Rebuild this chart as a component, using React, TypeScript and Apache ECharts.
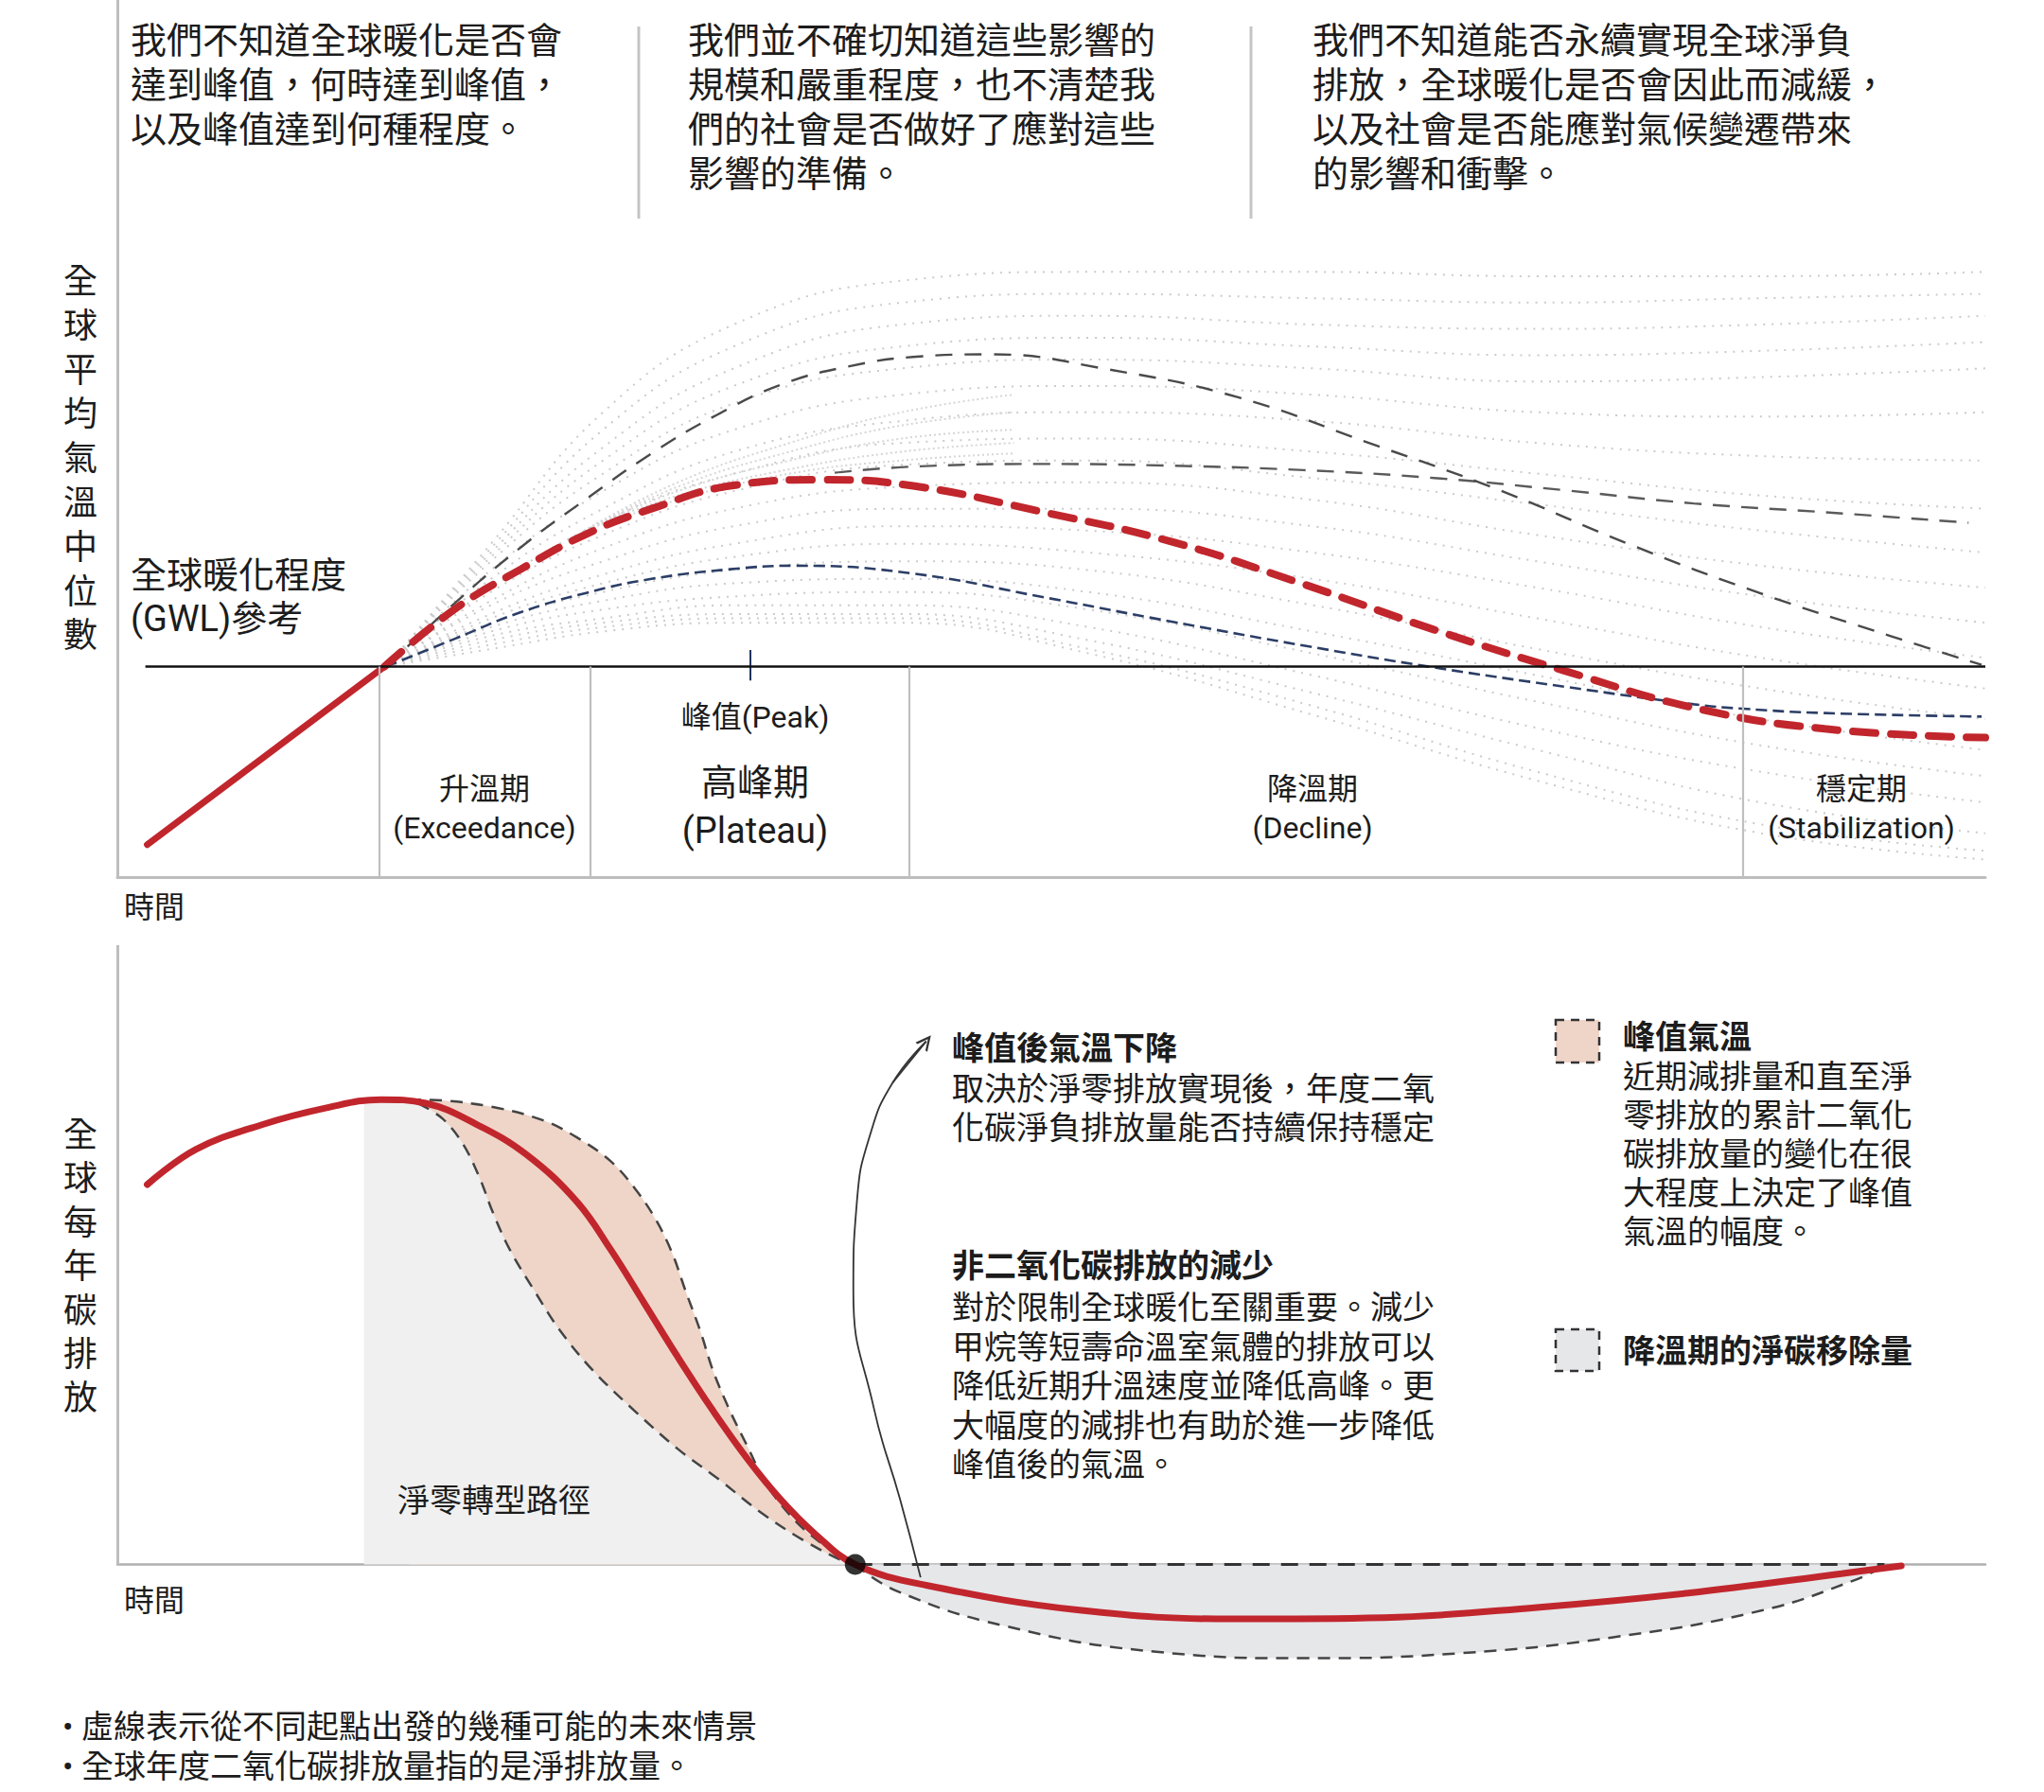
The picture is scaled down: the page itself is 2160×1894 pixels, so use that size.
import React, { useEffect, useRef } from 'react';
import * as echarts from 'echarts';

const FONT = "Roboto, 'Noto Sans CJK TC', 'Noto Sans', sans-serif";

// ---------- Top panel (time 0-100, temperature index 0-100, GWL = 24) ----------
const GWL = 24;
const PHASE_BOUNDS = [14.0, 25.3, 42.4, 87.0];
const PEAK_T = 33.9;

const FAN_T = [14.4, 20, 26, 33, 42, 52, 64, 76, 88, 100];
const fanCurves: number[][] = [
  [24, 38, 53, 63, 68, 69, 69, 68.5, 68.5, 69],
  [24, 37.5, 51, 60.5, 65.5, 66.5, 66, 65.5, 66, 66.5],
  [24, 37, 49, 58, 63, 64, 63, 62.5, 63, 64],
  [24, 36.5, 47.5, 56, 60.5, 61.5, 60.5, 59.5, 60, 61],
  [24, 36, 46, 54, 58, 59, 58, 56.5, 57, 58],
  [24, 35, 44, 51, 55, 56, 55, 53, 52.5, 53],
  [24, 34, 42, 48.5, 52, 53, 52, 49.5, 48, 47.5],
  [24, 33, 40.5, 46, 49.5, 50, 48.5, 46, 43.5, 42],
  [24, 32.5, 39, 44, 47, 47.5, 45.5, 42.5, 39.5, 37],
  [24, 31.5, 37.5, 42, 44.5, 45, 43, 39, 35.5, 33],
  [24, 31, 36, 40, 42, 42, 40, 36, 32, 29],
  [24, 30, 34.5, 38, 40, 39.5, 37, 33, 28.5, 25],
  [24, 29.5, 33.5, 36.5, 38, 37, 34, 29.5, 25, 21.5],
  [24, 29, 32.5, 35, 36, 35, 31, 26, 21.5, 18],
  [24, 28.5, 31.5, 33.5, 34, 32.5, 28, 23, 18, 14.5],
  [24, 28, 30.5, 32, 32.5, 30.5, 25.5, 20, 15, 11.5],
  [24, 27.5, 29.5, 31, 31, 28.5, 23, 17, 12, 8.5],
  [24, 27, 29, 30, 30, 27, 21, 14.5, 8.5, 5],
  [24, 26.5, 28.5, 29.5, 29.5, 26, 19.5, 12, 6, 3],
  [24, 26, 28, 29, 29, 25.5, 18.5, 11, 5, 2],
];

const HATCH_T = [25, 30, 36, 42, 48];
const hatchCurves: number[][] = [
  [39.5, 45, 49.5, 53, 55],
  [39.5, 44.5, 48.5, 51.5, 53],
  [39.5, 44, 47.5, 50, 51],
  [39.5, 43.5, 46.5, 48.5, 49.5],
  [39.5, 43, 46, 47.5, 48.3],
];

const redSolidTop = [[1.6, 3.7], [14.3, 24]];
const redDashedTop = [
  [14.3, 24], [18.1, 30.6], [21.6, 35.1], [25.1, 39.1], [28.6, 42.0], [32.8, 44.6], [37.7, 45.3],
  [42.6, 44.6], [49.6, 41.6], [56.5, 38.2], [63.5, 33.4], [70.5, 28.2], [77.5, 23.5], [84.4, 19.3],
  [91.4, 16.9], [100, 15.9],
];
const upperDashedTop = [
  [14.4, 24], [18.1, 31.3], [21.6, 37.6], [25.1, 43.1], [28.6, 48.3], [32.1, 52.7], [35.6, 56.2],
  [39.1, 58.2], [42.6, 59.3], [46.8, 59.6], [53.0, 57.9], [60.0, 54.7], [67.0, 49.5], [74.0, 44.1],
  [81.0, 37.9], [87.9, 32.4], [94.9, 27.5], [99.8, 24.2],
];
const middleDashedTop = [
  [38.4, 46.1], [42.6, 46.8], [49.6, 47.1], [56.5, 46.9], [63.5, 46.4], [70.5, 45.5], [77.5, 44.1],
  [84.4, 42.6], [91.4, 41.6], [99.1, 40.4],
];
const navyDashedTop = [
  [14.4, 24], [18.1, 27.2], [21.6, 30.2], [25.1, 32.4], [28.6, 34.0], [32.8, 35.1], [36.3, 35.5],
  [42.6, 34.6], [49.6, 31.9], [56.5, 29.1], [63.5, 26.4], [70.5, 23.9], [77.5, 21.7], [84.4, 19.7],
  [87.0, 19.2], [91.4, 18.7], [99.8, 18.3],
];

// ---------- Bottom panel (time 0-100, annual emissions index, peak = 100) ----------
const redBottom = [
  [1.6, 82.2], [4.2, 89.8], [7.7, 95.1], [11.2, 98.8], [14.1, 100.6], [16.5, 99.8], [19.2, 95.3],
  [21.9, 88.7], [24.6, 78.5], [26.4, 68.2], [28.2, 56.6], [30.0, 44.9], [31.9, 33.2], [33.7, 23.0],
  [35.5, 14.1], [37.3, 6.8], [39.5, 0], [43.3, -4.5], [51.5, -9.9], [59.7, -11.8], [67.8, -11.5],
  [76.0, -9.3], [84.1, -6.2], [92.3, -2.0], [95.5, -0.3],
];
const upperBand = [
  [15.6, 100.6], [17.4, 100.4], [20.1, 99.0], [22.8, 96.1], [24.6, 92.4], [26.4, 87.3], [27.7, 81.4],
  [28.8, 74.8], [29.7, 67.4], [30.4, 59.4], [31.2, 50.6], [31.9, 41.8], [32.8, 33.2], [33.7, 25.8],
  [34.8, 17.0], [36.4, 9.0], [38.2, 3.1], [39.5, 0],
];
const lowerBand = [
  [16.1, 99.8], [17.4, 96.5], [18.5, 91.0], [19.4, 83.6], [20.1, 76.2], [21.0, 68.2], [22.3, 59.4],
  [23.7, 50.6], [25.5, 41.8], [27.7, 33.2], [30.0, 25.0], [32.2, 18.4], [34.5, 11.1], [36.7, 5.3],
  [38.8, 0.8], [39.5, 0],
];
const pathwayStart = [[13.2, 100.4], [14.1, 100.6], [15.2, 100.3]];
const removalLower = [
  [39.5, 0], [41.7, -5.7], [47.5, -13.3], [55.6, -18.9], [63.7, -20.3], [71.9, -19.2], [80.0, -15.8],
  [88.1, -9.9], [93.0, -3.4], [94.6, -0.3],
];
const removalUpper = [[39.5, 0], [94.6, 0]];
const netZeroPoint = [[39.5, 0]];
const arrowArc = [
  [43.0, -2.8], [41.9, 14.1], [40.5, 33.8], [39.4, 59.2], [39.6, 78.9], [40.3, 93.0], [41.5, 104.2],
  [43.3, 113.2],
];

const RED = '#c1262d';
const TXT = '#1c1c1c';
const CHEVRON = 'path://M5,0 L10,10 L8.4,10 L5,3.2 L1.6,10 L0,10 Z';

function txt(text: string, x: number, y: number, size: number, opts: any = {}) {
  const lh = opts.lineHeight || Math.round(size * 1.23);
  return {
    type: 'text',
    x,
    y: y - lh / 2 + 2,
    z: 100,
    silent: true,
    style: {
      text,
      font: `${opts.bold ? 700 : 400} ${size}px ${FONT}`,
      fill: opts.fill || TXT,
      textAlign: opts.align || 'left',
      align: opts.align || 'left',
      textVerticalAlign: 'top',
      verticalAlign: 'top',
      lineHeight: lh,
    },
  };
}

function buildOption() {
  const top = { xAxisIndex: 0, yAxisIndex: 0 };
  const bot = { xAxisIndex: 1, yAxisIndex: 1 };
  const series: any[] = [];

  fanCurves.forEach((c, k) => {
    series.push({
      type: 'line', ...top, name: 'fan' + k, silent: true, symbol: 'none', smooth: 0.45, z: 2,
      data: FAN_T.map((t, i) => [t, c[i]]),
      lineStyle: { color: '#cbcbcb', width: 2, type: [2, 7] },
    });
  });
  hatchCurves.forEach((c, k) => {
    series.push({
      type: 'line', ...top, name: 'hatch' + k, silent: true, symbol: 'none', smooth: 0.45, z: 2,
      data: HATCH_T.map((t, i) => [t, c[i]]),
      lineStyle: { color: '#d6d6d6', width: 2, type: [2, 3] },
    });
  });
  series.push({
    type: 'line', ...top, silent: true, symbol: 'none', smooth: 0.45, z: 3,
    data: middleDashedTop,
    lineStyle: { color: '#5a5a5a', width: 2.4, type: [18, 12] },
  });
  series.push({
    type: 'line', ...top, silent: true, symbol: 'none', smooth: 0.45, z: 3,
    data: upperDashedTop,
    lineStyle: { color: '#4a4a4a', width: 2.4, type: [18, 13] },
  });
  series.push({
    type: 'line', ...top, silent: true, symbol: 'none', smooth: 0.45, z: 3,
    data: navyDashedTop,
    lineStyle: { color: '#2c3e66', width: 2.6, type: [12, 6] },
    markLine: {
      silent: true, symbol: 'none', label: { show: false },
      data: [[
        { coord: [PEAK_T, 22.4], lineStyle: { color: '#1f3560', width: 2, type: 'solid' } },
        { coord: [PEAK_T, 25.9] },
      ]],
    },
  });
  series.push({
    type: 'line', ...top, silent: true, symbol: 'none', smooth: 0.45, z: 4,
    data: redDashedTop,
    lineStyle: { color: RED, width: 8, type: [24, 16], cap: 'round' },
  });
  series.push({
    type: 'line', ...top, silent: true, symbol: 'none', z: 4,
    data: redSolidTop,
    lineStyle: { color: RED, width: 7, cap: 'round' },
    markLine: {
      silent: true, symbol: 'none', label: { show: false },
      data: [
        [{ coord: [1.5, GWL], lineStyle: { color: '#111', width: 2.6, type: 'solid' } }, { coord: [100, GWL] }],
        ...PHASE_BOUNDS.map((t) => [
          { coord: [t, 0], lineStyle: { color: '#bfbfbf', width: 2.2, type: 'solid' } },
          { coord: [t, GWL] },
        ]),
      ],
    },
  });

  // bottom panel
  series.push({
    type: 'line', ...bot, silent: true, symbol: 'none', smooth: 0.35, z: 2,
    data: upperBand,
    lineStyle: { color: '#444', width: 2.5, type: [13, 9] },
    areaStyle: { color: '#efd5c8', opacity: 1 },
  });
  series.push({
    type: 'line', ...bot, silent: true, symbol: 'none', smooth: 0.35, z: 3,
    data: [...pathwayStart, ...lowerBand],
    lineStyle: { width: 0, opacity: 0 },
    areaStyle: { color: '#f0f0f0', opacity: 1 },
  });
  series.push({
    type: 'line', ...bot, silent: true, symbol: 'none', smooth: 0.35, z: 4,
    data: lowerBand,
    lineStyle: { color: '#444', width: 2.5, type: [13, 9] },
  });
  series.push({
    type: 'line', ...bot, silent: true, symbol: 'none', smooth: 0.45, z: 3,
    data: removalLower,
    lineStyle: { color: '#444', width: 2.5, type: [13, 9] },
    areaStyle: { color: '#e6e7e9', opacity: 1 },
  });
  series.push({
    type: 'line', ...bot, silent: true, symbol: 'none', z: 4,
    data: removalUpper,
    lineStyle: { color: '#333', width: 3, type: [18, 12] },
  });
  series.push({
    type: 'line', ...bot, silent: true, symbol: 'none', smooth: 0.4, z: 5,
    data: redBottom,
    lineStyle: { color: RED, width: 7, cap: 'round' },
    markLine: {
      silent: true, symbol: 'none', label: { show: false },
      lineStyle: { color: '#bdbdbd', width: 3, type: 'solid' },
      data: [[{ coord: [0, 0] }, { coord: [0, 134] }]],
    },
  });
  series.push({
    type: 'line', ...bot, silent: true, symbol: 'none', smooth: 0.5, z: 6,
    data: arrowArc,
    lineStyle: { color: '#333', width: 1.8 },
  });
  series.push({
    type: 'lines', coordinateSystem: 'cartesian2d', ...bot, silent: true, z: 6,
    symbol: ['none', CHEVRON], symbolSize: [0, 16],
    lineStyle: { color: '#333', width: 1.8, opacity: 1 },
    data: [{ coords: [arrowArc[arrowArc.length - 2], arrowArc[arrowArc.length - 1]] }],
  });
  series.push({
    type: 'scatter', ...bot, silent: true, z: 10,
    data: netZeroPoint, symbolSize: 22, itemStyle: { color: '#000' },
  });

  const hidden = { axisTick: { show: false }, axisLabel: { show: false }, splitLine: { show: false } };

  const graphic: any[] = [
    { type: 'line', silent: true, shape: { x1: 675, y1: 28, x2: 675, y2: 231 }, style: { stroke: '#c4c4c4', lineWidth: 3 } },
    { type: 'line', silent: true, shape: { x1: 1322, y1: 28, x2: 1322, y2: 231 }, style: { stroke: '#c4c4c4', lineWidth: 3 } },
    txt('我們不知道全球暖化是否會\n達到峰值，何時達到峰值，\n以及峰值達到何種程度。', 138, 41, 38, { lineHeight: 47 }),
    txt('我們並不確切知道這些影響的\n規模和嚴重程度，也不清楚我\n們的社會是否做好了應對這些\n影響的準備。', 727, 41, 38, { lineHeight: 47 }),
    txt('我們不知道能否永續實現全球淨負\n排放，全球暖化是否會因此而減緩，\n以及社會是否能應對氣候變遷帶來\n的影響和衝擊。', 1387, 41, 38, { lineHeight: 47 }),
    txt('全\n球\n平\n均\n氣\n溫\n中\n位\n數', 85, 296, 36, { align: 'center', lineHeight: 46.8 }),
    txt('全\n球\n每\n年\n碳\n排\n放', 85, 1198, 36, { align: 'center', lineHeight: 46.4 }),
    txt('全球暖化程度\n(GWL)參考', 138, 606, 38, { lineHeight: 46 }),
    txt('時間', 131, 957, 32),
    txt('時間', 131, 1690, 32),
    txt('升溫期\n(Exceedance)', 512, 832, 32, { align: 'center', lineHeight: 41 }),
    txt('峰值(Peak)', 798, 756, 32, { align: 'center' }),
    txt('高峰期\n(Plateau)', 798, 825, 38, { align: 'center', lineHeight: 51 }),
    txt('降溫期\n(Decline)', 1387, 832, 32, { align: 'center', lineHeight: 41 }),
    txt('穩定期\n(Stabilization)', 1967, 832, 32, { align: 'center', lineHeight: 41 }),
    txt('峰值後氣溫下降', 1006, 1106, 34, { bold: true }),
    txt('取決於淨零排放實現後，年度二氧\n化碳淨負排放量能否持續保持穩定', 1006, 1149, 34, { lineHeight: 41.3 }),
    txt('非二氧化碳排放的減少', 1006, 1336, 34, { bold: true }),
    txt('對於限制全球暖化至關重要。減少\n甲烷等短壽命溫室氣體的排放可以\n降低近期升溫速度並降低高峰。更\n大幅度的減排也有助於進一步降低\n峰值後的氣溫。', 1006, 1380, 34, { lineHeight: 41.5 }),
    { type: 'rect', silent: true, z: 100, shape: { x: 1644, y: 1078, width: 46, height: 45 }, style: { fill: '#efd5c8', stroke: '#333', lineWidth: 2.5, lineDash: [9, 7] } },
    txt('峰值氣溫', 1715, 1094, 34, { bold: true }),
    txt('近期減排量和直至淨\n零排放的累計二氧化\n碳排放量的變化在很\n大程度上決定了峰值\n氣溫的幅度。', 1715, 1136, 34, { lineHeight: 41 }),
    { type: 'rect', silent: true, z: 100, shape: { x: 1644, y: 1405, width: 46, height: 44 }, style: { fill: '#e6e7e9', stroke: '#333', lineWidth: 2.5, lineDash: [9, 7] } },
    txt('降溫期的淨碳移除量', 1715, 1426, 34, { bold: true }),
    txt('淨零轉型路徑', 420, 1584, 34),
    txt('• 虛線表示從不同起點出發的幾種可能的未來情景', 66, 1823, 34),
    txt('• 全球年度二氧化碳排放量指的是淨排放量。', 66, 1865, 34),
  ];

  return {
    animation: false,
    backgroundColor: '#ffffff',
    textStyle: { fontFamily: FONT },
    grid: [
      { left: 124, top: 0, width: 1974, height: 927 },
      { left: 124, top: 999, width: 1974, height: 801 },
    ],
    xAxis: [
      { type: 'value', gridIndex: 0, min: 0, max: 100, ...hidden, axisLine: { show: true, lineStyle: { color: '#bdbdbd', width: 3 } } },
      { type: 'value', gridIndex: 1, min: 0, max: 100, ...hidden, axisLine: { show: true, onZero: true, lineStyle: { color: '#b0b0b0', width: 2.5 } } },
    ],
    yAxis: [
      { type: 'value', gridIndex: 0, min: 0, max: 100, ...hidden, axisLine: { show: true, lineStyle: { color: '#bdbdbd', width: 3 } } },
      { type: 'value', gridIndex: 1, min: -30, max: 134, ...hidden, axisLine: { show: false } },
    ],
    series,
    graphic,
  };
}

export default function App() {
  const ref = useRef<HTMLDivElement>(null);
  useEffect(() => {
    if (!ref.current) return;
    const chart = echarts.init(ref.current, null, { renderer: 'svg' });
    chart.setOption(buildOption() as any);
    return () => chart.dispose();
  }, []);
  return (
    <div
      ref={ref}
      style={{ position: 'absolute', left: 0, top: 0, width: 2160, height: 1894, background: '#fff' }}
    />
  );
}
